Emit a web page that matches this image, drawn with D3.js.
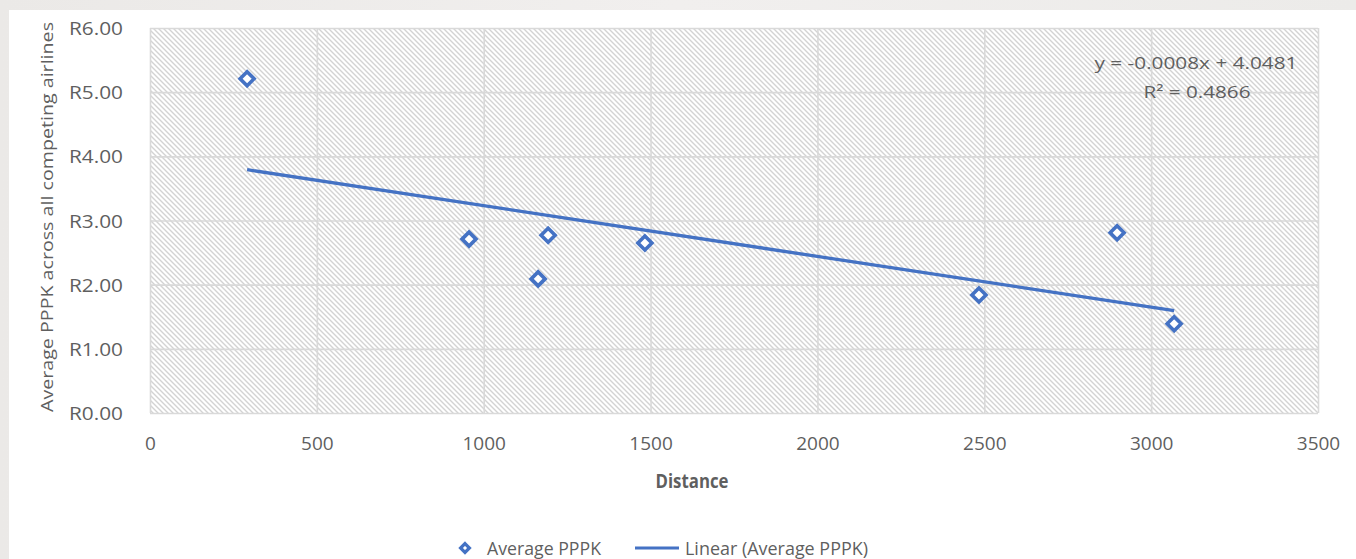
<!DOCTYPE html>
<html>
<head>
<meta charset="utf-8">
<script src="https://cdn.jsdelivr.net/npm/d3@7"></script>
<style>
  html, body { margin: 0; padding: 0; background: #eeecea; }
  svg { display: block; }
</style>
</head>
<body>
<svg id="chart" width="1356" height="559"></svg>
<script>
// ---- data ----
const distances = [291, 956, 1163, 1193, 1483, 2484, 2898, 3069];
const avgPPPK   = [5.21, 2.71, 2.09, 2.77, 2.65, 1.84, 2.81, 1.39];
const xTicks = [0, 500, 1000, 1500, 2000, 2500, 3000, 3500];
const yTicks = [0, 1, 2, 3, 4, 5, 6];
const seriesName = "Average PPPK";
const trendName = "Linear (Average PPPK)";
const xTitle = "Distance";
const yTitle = "Average PPPK across all competing airlines";
const equationText = "y = -0.0008x + 4.0481";
const r2Text = "R² = 0.4866";

const blue = "#4472C4";
const textColor = "#5f5f5f";
const gridColor = "#d9d9d9";
const font = "'Open Sans', 'Liberation Sans', sans-serif";

const svg = d3.select("#chart");

// background
const defs = svg.append("defs");
const bg = defs.append("linearGradient").attr("id", "bgGrad").attr("x1", 0).attr("x2", 1).attr("y1", 0).attr("y2", 0);
bg.append("stop").attr("offset", "0%").attr("stop-color", "#ebe9e7");
bg.append("stop").attr("offset", "50%").attr("stop-color", "#f1efee");
bg.append("stop").attr("offset", "100%").attr("stop-color", "#ecebe9");
svg.append("rect").attr("x", 0).attr("y", 0).attr("width", 1356).attr("height", 559).attr("fill", "url(#bgGrad)");

// chart area white
svg.append("rect").attr("x", 9).attr("y", 10).attr("width", 1347).attr("height", 549).attr("fill", "#ffffff");

// hatch pattern
const hs = 5;
const pat = defs.append("pattern").attr("id", "hatch").attr("patternUnits", "userSpaceOnUse")
  .attr("width", hs).attr("height", hs);
pat.append("path").attr("d", `M-1,-1 L${hs + 1},${hs + 1} M${hs - 1},-1 L${hs + 1},1 M-1,${hs - 1} L1,${hs + 1}`)
  .attr("stroke", "#d3d3d3").attr("stroke-width", 1.4).attr("fill", "none");

const x = d3.scaleLinear().domain([0, 3500]).range([150, 1318]);
const y = d3.scaleLinear().domain([0, 6]).range([413, 28]);

// plot area hatch
svg.append("rect").attr("x", x(0)).attr("y", y(6)).attr("width", x(3500) - x(0)).attr("height", y(0) - y(6))
  .attr("fill", "url(#hatch)");

// gridlines
const gX = svg.append("g").attr("transform", `translate(0,${y(0)})`)
  .call(d3.axisBottom(x).tickValues(xTicks).tickSize(-(y(0) - y(6))).tickFormat(""));
gX.select(".domain").remove();
gX.selectAll("line").attr("stroke", gridColor).attr("stroke-width", 1.6);

const gY = svg.append("g").attr("transform", `translate(${x(0)},0)`)
  .call(d3.axisLeft(y).tickValues(yTicks).tickSize(-(x(3500) - x(0))).tickFormat(""));
gY.select(".domain").remove();
gY.selectAll("line").attr("stroke", gridColor).attr("stroke-width", 1.6);

// x tick labels
const xl = svg.append("g").attr("transform", `translate(0,${y(0)})`)
  .call(d3.axisBottom(x).tickValues(xTicks).tickSize(0).tickPadding(0).tickFormat(d3.format("d")));
xl.select(".domain").remove();
xl.selectAll("text").attr("y", 37).attr("dy", 0).attr("font-family", font).attr("font-size", 19)
  .attr("fill", textColor);

// y tick labels
const yl = svg.append("g").attr("transform", `translate(123,0)`)
  .call(d3.axisLeft(y).tickValues(yTicks).tickSize(0).tickPadding(0).tickFormat(d => "R" + d.toFixed(2)));
yl.select(".domain").remove();
yl.selectAll("text").attr("x", 0).attr("dy", "0.35em").attr("text-anchor", "end").attr("font-family", font).attr("font-size", 19)
  .attr("fill", textColor).attr("textLength", 54).attr("lengthAdjust", "spacingAndGlyphs");

// axis titles
svg.append("text").attr("x", 692).attr("y", 488).attr("text-anchor", "middle")
  .attr("font-family", font).attr("font-weight", "bold").attr("font-size", 19).attr("fill", textColor)
  .attr("textLength", 73).attr("lengthAdjust", "spacingAndGlyphs").text(xTitle);

svg.append("text").attr("transform", "translate(53,217) rotate(-90)").attr("text-anchor", "middle")
  .attr("font-family", font).attr("font-size", 17).attr("fill", textColor)
  .attr("textLength", 390).attr("lengthAdjust", "spacingAndGlyphs").text(yTitle);

// trendline (least squares from data)
const n = distances.length;
const mx = d3.mean(distances), my = d3.mean(avgPPPK);
let sxy = 0, sxx = 0;
for (let i = 0; i < n; i++) { sxy += (distances[i] - mx) * (avgPPPK[i] - my); sxx += (distances[i] - mx) ** 2; }
const slope = sxy / sxx, intercept = my - slope * mx;
const xr = d3.extent(distances);
const trend = xr.map(v => [v, intercept + slope * v]);
svg.append("path").datum(trend)
  .attr("d", d3.line().x(d => x(d[0])).y(d => y(d[1])))
  .attr("stroke", blue).attr("stroke-width", 3.3).attr("fill", "none");

// markers
const diamond = d3.symbol().type(d3.symbolDiamond2).size(125);
svg.append("g").selectAll("path").data(distances.map((d, i) => [d, avgPPPK[i]])).join("path")
  .attr("d", diamond)
  .attr("transform", d => `translate(${x(d[0])},${y(d[1])})`)
  .attr("fill", "#ffffff").attr("stroke", blue).attr("stroke-width", 3.6);

// equation labels
svg.append("text").attr("x", 1196).attr("y", 69).attr("text-anchor", "middle")
  .attr("font-family", font).attr("font-size", 17).attr("fill", textColor)
  .attr("textLength", 203).attr("lengthAdjust", "spacingAndGlyphs").text(equationText);
svg.append("text").attr("x", 1197).attr("y", 98).attr("text-anchor", "middle")
  .attr("font-family", font).attr("font-size", 17).attr("fill", textColor)
  .attr("textLength", 107).attr("lengthAdjust", "spacingAndGlyphs").text(r2Text);

// legend
const leg = svg.append("g");
leg.append("path").attr("d", d3.symbol().type(d3.symbolDiamond2).size(50))
  .attr("transform", "translate(465,548)").attr("fill", "#fff").attr("stroke", blue).attr("stroke-width", 3.2);
leg.append("text").attr("x", 487).attr("y", 555).attr("font-family", font).attr("font-size", 18).attr("fill", textColor)
  .attr("textLength", 114).attr("lengthAdjust", "spacingAndGlyphs").text(seriesName);
leg.append("line").attr("x1", 635).attr("x2", 679).attr("y1", 548).attr("y2", 548).attr("stroke", blue).attr("stroke-width", 3);
leg.append("text").attr("x", 685).attr("y", 555).attr("font-family", font).attr("font-size", 18).attr("fill", textColor)
  .attr("textLength", 183).attr("lengthAdjust", "spacingAndGlyphs").text(trendName);
</script>
</body>
</html>
